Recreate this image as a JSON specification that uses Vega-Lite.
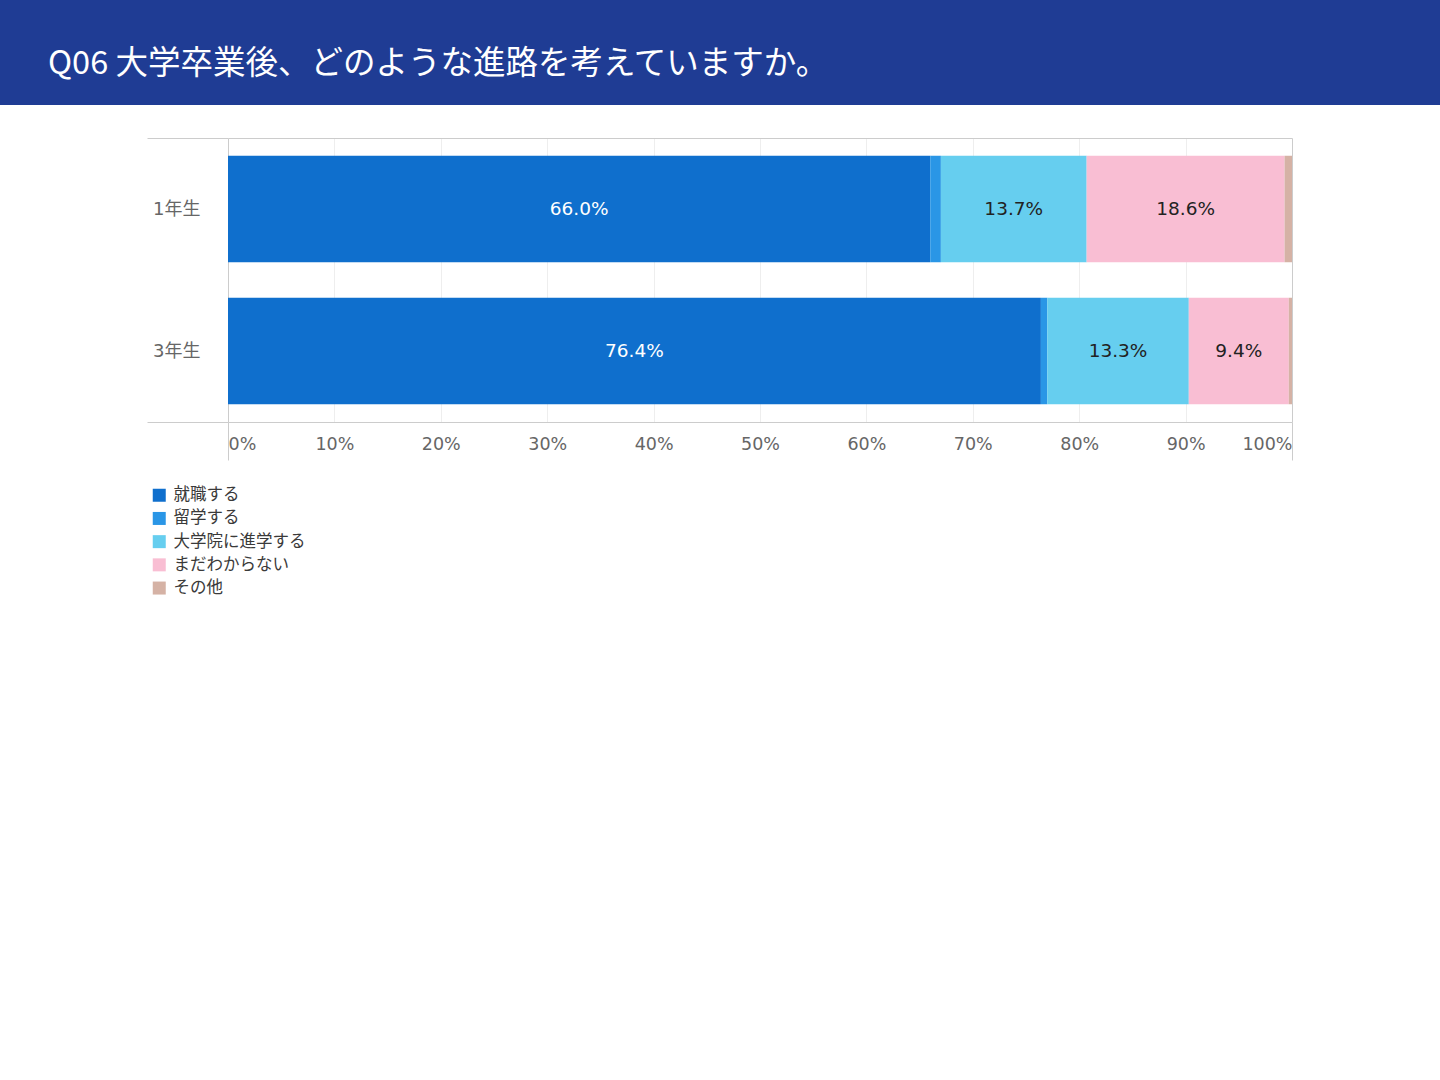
{
  "$schema": "https://vega.github.io/schema/vega-lite/v6.json",
  "description": "Q06 stacked 100% bar chart of career plans after graduation, by year",
  "background": "white",
  "padding": {"left": 0, "top": 0, "right": 0, "bottom": 40},
  "spacing": 24,
  "config": {
    "font": "DejaVu Sans, Noto Sans CJK JP",
    "view": {"stroke": null}
  },
  "datasets": {
    "answers": [
      {"year": "1年生", "answer": "就職する", "pct": 66.0},
      {"year": "1年生", "answer": "留学する", "pct": 1.0},
      {"year": "1年生", "answer": "大学院に進学する", "pct": 13.7},
      {"year": "1年生", "answer": "まだわからない", "pct": 18.6},
      {"year": "1年生", "answer": "その他", "pct": 0.7},
      {"year": "3年生", "answer": "就職する", "pct": 76.4},
      {"year": "3年生", "answer": "留学する", "pct": 0.6},
      {"year": "3年生", "answer": "大学院に進学する", "pct": 13.3},
      {"year": "3年生", "answer": "まだわからない", "pct": 9.4},
      {"year": "3年生", "answer": "その他", "pct": 0.3}
    ]
  },
  "vconcat": [
    {
      "width": 1440,
      "height": 105,
      "view": {"fill": "#1f3c94", "stroke": null},
      "title": {
        "text": "Q06 大学卒業後、どのような進路を考えていますか。",
        "anchor": "start",
        "frame": "group",
        "orient": "top",
        "offset": -80,
        "dx": 48,
        "color": "white",
        "font": "Noto Sans CJK JP",
        "fontSize": 32.5,
        "fontWeight": "normal"
      },
      "data": {"values": [{"label": ""}]},
      "mark": {"type": "text"},
      "encoding": {"text": {"field": "label"}}
    },
    {
      "spacing": 10,
      "hconcat": [
        {
          "width": 136,
          "height": 284,
          "data": {"values": [{"label": ""}]},
          "mark": {"type": "text"},
          "encoding": {"text": {"field": "label"}}
        },
        {
          "width": 1064,
          "height": 284,
          "data": {"name": "answers"},
          "transform": [
            {"calculate": "indexof(['就職する','留学する','大学院に進学する','まだわからない','その他'], datum.answer)", "as": "rank"},
            {"stack": "pct", "groupby": ["year"], "sort": [{"field": "rank", "order": "ascending"}], "as": ["start", "end"]},
            {"calculate": "(datum.start + datum.end) / 2", "as": "mid"},
            {"calculate": "format(datum.pct, '.1f') + '%'", "as": "label"}
          ],
          "encoding": {
            "y": {
              "field": "year",
              "type": "nominal",
              "title": null,
              "scale": {"paddingInner": 0, "paddingOuter": 0},
              "axis": {
                "tickBand": "extent",
                "tickSize": 81,
                "tickColor": {"condition": {"test": "datum.value === '1年生'", "value": "transparent"}, "value": "#cccccc"},
                "grid": true,
                "gridColor": {"condition": {"test": "datum.value === '1年生'", "value": "transparent"}, "value": "#cccccc"},
                "domain": false,
                "labelPadding": -53,
                "labelFontSize": 18,
                "labelColor": "#666666",
                "minExtent": 81,
                "maxExtent": 81
              }
            }
          },
          "layer": [
            {
              "mark": {"type": "bar", "height": {"band": 0.75}},
              "encoding": {
                "x": {
                  "field": "start",
                  "type": "quantitative",
                  "title": null,
                  "scale": {"domain": [0, 100], "nice": false},
                  "axis": {
                    "values": [0, 10, 20, 30, 40, 50, 60, 70, 80, 90, 100],
                    "labelExpr": "datum.value + '%'",
                    "labelFlush": true,
                    "labelFontSize": 17.5,
                    "labelColor": "#666666",
                    "labelPadding": -25,
                    "tickSize": 38,
                    "tickColor": {"condition": {"test": "datum.value === 0 || datum.value === 100", "value": "#cccccc"}, "value": "transparent"},
                    "gridColor": {"condition": {"test": "datum.value === 0 || datum.value === 100", "value": "#cccccc"}, "value": "#eeeeee"},
                    "domain": false
                  }
                },
                "x2": {"field": "end"},
                "color": {
                  "field": "answer",
                  "type": "nominal",
                  "scale": {
                    "domain": ["就職する", "留学する", "大学院に進学する", "まだわからない", "その他"],
                    "range": ["#0f6fcd", "#2a96e6", "#66ceef", "#f9bed3", "#d5b2a5"]
                  },
                  "legend": {
                    "title": null,
                    "orient": "none",
                    "legendX": 151,
                    "legendY": 487,
                    "direction": "vertical",
                    "symbolType": "square",
                    "symbolSize": 169,
                    "symbolStrokeWidth": 0,
                    "symbolOpacity": 1,
                    "labelFontSize": 16.5,
                    "labelColor": "#3a3a3a",
                    "labelFont": "Noto Sans CJK JP",
                    "labelOffset": 6,
                    "rowPadding": 6.2,
                    "padding": 0
                  }
                }
              }
            },
            {
              "transform": [{"filter": "datum.pct >= 5"}],
              "mark": {"type": "text", "fontSize": 18.5, "align": "center", "baseline": "middle"},
              "encoding": {
                "x": {"field": "mid", "type": "quantitative"},
                "text": {"field": "label"},
                "color": {
                  "condition": {"test": "datum.answer === '就職する'", "value": "white"},
                  "value": "#222222"
                }
              }
            }
          ]
        }
      ]
    }
  ]
}
